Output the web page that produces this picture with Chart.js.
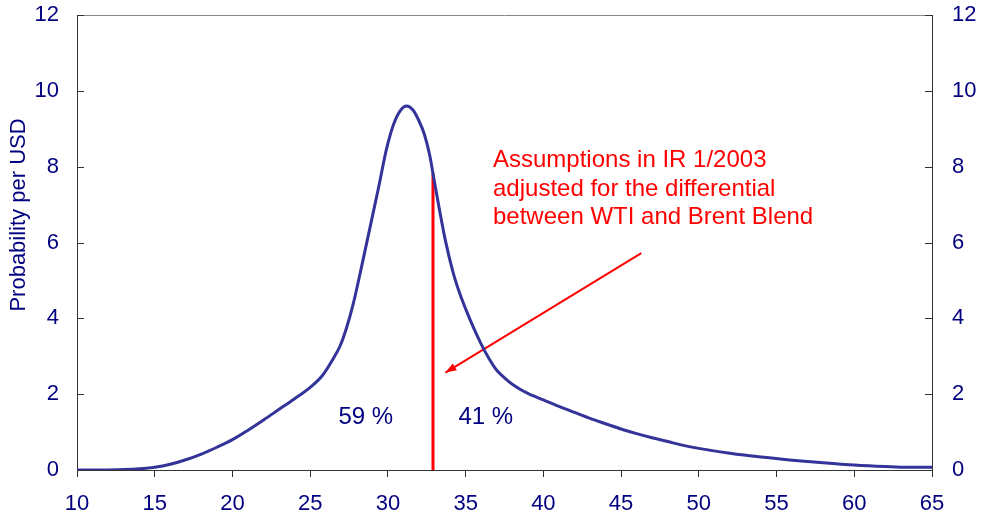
<!DOCTYPE html>
<html>
<head>
<meta charset="utf-8">
<script src="https://cdn.jsdelivr.net/npm/chart.js@4"></script>
<style>
  html, body { margin: 0; padding: 0; background: #fff; }
  #wrap { width: 985px; height: 520px; }
</style>
</head>
<body>
<div id="wrap"><canvas id="grafico" width="985" height="520"></canvas></div>
<script>
// oil price (USD) and probability density per USD
const precos = [10, 11, 12, 13, 14, 15, 16, 17, 18, 19, 20, 21, 22, 23, 24, 25, 25.8, 26.5, 26.9, 27.3, 27.75,
  28.3, 28.85, 29.4, 29.9, 30.35, 30.8, 31.2, 31.6, 31.95, 32.35, 32.7, 32.9, 33.3, 33.7, 34.2, 34.6, 35,
  35.5, 36, 36.5, 37, 37.5, 38, 38.5, 39, 40, 41, 42, 43, 44, 45, 46, 47, 48, 49, 50, 52, 54, 56, 58, 60, 62, 63.5, 65];
const densidade = [0, 0, 0, 0.01, 0.03, 0.07, 0.15, 0.27, 0.42, 0.6, 0.8, 1.05, 1.32, 1.6, 1.88, 2.18, 2.5, 2.95, 3.25, 3.7, 4.35,
  5.35, 6.4, 7.45, 8.45, 9.1, 9.48, 9.6, 9.5, 9.25, 8.85, 8.28, 7.82, 6.9, 6.05, 5.2, 4.68, 4.25,
  3.76, 3.32, 2.94, 2.63, 2.43, 2.26, 2.13, 2.02, 1.85, 1.68, 1.52, 1.36, 1.22, 1.08, 0.96, 0.85, 0.75, 0.65, 0.57, 0.44, 0.34, 0.26, 0.19, 0.13, 0.09, 0.07, 0.07];

// x and y ticks
const ticksX = [10, 15, 20, 25, 30, 35, 40, 45, 50, 55, 60, 65];
const ticksY = [0, 2, 4, 6, 8, 10, 12];

// assumption line and arrow
const linhaX = [32.9, 32.9];
const linhaY = [0, 7.82];
const setaX = [46.3, 33.7];
const setaY = [5.72, 2.57];

// texts
const textoNota = ['Assumptions in IR 1/2003', 'adjusted for the differential', 'between WTI and Brent Blend'];
const notaPos = [493, 167]; // left, first baseline (px)
const rotulos = ['59 %', '41 %'];
const rotulosX = [28.58, 36.3];
const rotulosY = [1.4, 1.4];

const azulTexto = '#000080';
const azulLinha = '#333399';
const vermelho = '#ff0000';
const fonte = 'Liberation Sans, Arial, sans-serif';

const pontos = (xs, ys) => xs.map((x, i) => ({ x: x, y: ys[i] }));

// ticks pointing into the plot, top frame, texts and arrowhead
const extras = {
  id: 'extras',
  beforeDatasetsDraw(chart) {
    const ctx = chart.ctx;
    const a = chart.chartArea;
    const yL = chart.scales.y, yR = chart.scales.y2;
    ctx.save();
    ctx.strokeStyle = '#888';
    ctx.lineWidth = 1;
    ctx.beginPath();
    ctx.moveTo(a.left, a.top + 0.5);
    ctx.lineTo(a.right, a.top + 0.5);
    ctx.stroke();
    ctx.strokeStyle = '#333';
    ctx.beginPath();
    ticksY.forEach(v => {
      const py = Math.round(yL.getPixelForValue(v)) + 0.5;
      ctx.moveTo(a.left, py); ctx.lineTo(a.left + 7, py);
      const py2 = Math.round(yR.getPixelForValue(v)) + 0.5;
      ctx.moveTo(a.right, py2); ctx.lineTo(a.right - 7, py2);
    });
    ctx.stroke();
    ctx.restore();
  },
  afterDatasetsDraw(chart) {
    const ctx = chart.ctx;
    const sx = chart.scales.x, sy = chart.scales.y;
    ctx.save();
    // arrowhead
    const x1 = sx.getPixelForValue(setaX[0]), y1 = sy.getPixelForValue(setaY[0]);
    const x2 = sx.getPixelForValue(setaX[1]), y2 = sy.getPixelForValue(setaY[1]);
    const ang = Math.atan2(y2 - y1, x2 - x1);
    ctx.fillStyle = vermelho;
    ctx.beginPath();
    ctx.moveTo(x2, y2);
    ctx.lineTo(x2 - 11 * Math.cos(ang) + 4 * Math.sin(ang), y2 - 11 * Math.sin(ang) - 4 * Math.cos(ang));
    ctx.lineTo(x2 - 11 * Math.cos(ang) - 4 * Math.sin(ang), y2 - 11 * Math.sin(ang) + 4 * Math.cos(ang));
    ctx.closePath();
    ctx.fill();

    // note
    ctx.font = '24px ' + fonte;
    ctx.textAlign = 'left';
    ctx.textBaseline = 'alphabetic';
    textoNota.forEach((t, i) => ctx.fillText(t, notaPos[0], notaPos[1] + i * 28.7));

    // shares either side of the line
    ctx.fillStyle = azulTexto;
    ctx.textAlign = 'center';
    ctx.textBaseline = 'middle';
    rotulos.forEach((t, i) => ctx.fillText(t, sx.getPixelForValue(rotulosX[i]), sy.getPixelForValue(rotulosY[i])));

    // y title
    ctx.font = '22px ' + fonte;
    ctx.translate(19, 215);
    ctx.rotate(-Math.PI / 2);
    ctx.fillText('Probability per USD', 0, 0);
    ctx.restore();
  }
};

new Chart(document.getElementById('grafico'), {
  type: 'line',
  data: {
    datasets: [
      {
        data: pontos(precos, densidade),
        borderColor: azulLinha,
        borderWidth: 3,
        pointRadius: 0,
        cubicInterpolationMode: 'monotone',
        yAxisID: 'y'
      },
      {
        data: pontos(linhaX, linhaY),
        borderColor: vermelho,
        borderWidth: 3,
        pointRadius: 0,
        yAxisID: 'y'
      },
      {
        data: pontos(setaX, setaY),
        borderColor: vermelho,
        borderWidth: 2,
        pointRadius: 0,
        yAxisID: 'y'
      }
    ]
  },
  options: {
    responsive: false,
    animation: false,
    layout: { padding: { top: 15 } },
    plugins: { legend: { display: false }, tooltip: { enabled: false } },
    scales: {
      x: {
        type: 'linear',
        min: 10,
        max: 65,
        afterBuildTicks: s => { s.ticks = ticksX.map(v => ({ value: v })); },
        afterFit: s => { s.height = 50; s.paddingLeft = 0; s.paddingRight = 0; },
        grid: { drawOnChartArea: false, tickLength: 7, color: '#333' },
        border: { color: '#333' },
        ticks: { color: azulTexto, font: { family: fonte, size: 22 }, padding: 14, maxRotation: 0 }
      },
      y: {
        min: 0,
        max: 12,
        afterBuildTicks: s => { s.ticks = ticksY.map(v => ({ value: v })); },
        afterFit: s => { s.width = 77; s.paddingTop = 0; s.paddingBottom = 0; },
        grid: { drawOnChartArea: false, drawTicks: false },
        border: { color: '#333' },
        ticks: { color: azulTexto, font: { family: fonte, size: 22 }, padding: 18 }
      },
      y2: {
        position: 'right',
        min: 0,
        max: 12,
        afterBuildTicks: s => { s.ticks = ticksY.map(v => ({ value: v })); },
        afterFit: s => { s.width = 53; s.paddingTop = 0; s.paddingBottom = 0; },
        grid: { drawOnChartArea: false, drawTicks: false },
        border: { color: '#333' },
        ticks: { color: azulTexto, font: { family: fonte, size: 22 }, padding: 20 }
      }
    }
  },
  plugins: [extras]
});
</script>
</body>
</html>
